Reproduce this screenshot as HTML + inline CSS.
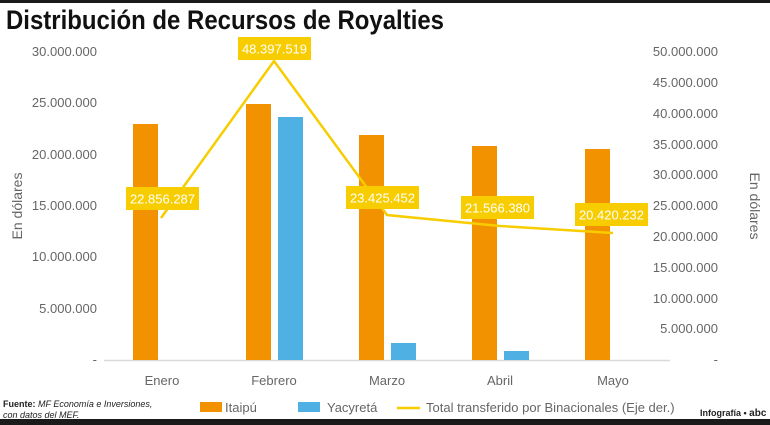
<!DOCTYPE html>
<html><head><meta charset="utf-8"><style>
body{margin:0;background:#fff;}
svg{display:block;font-family:"Liberation Sans",sans-serif;}
</style></head><body>
<svg width="770" height="425" viewBox="0 0 770 425">
<rect x="0" y="0" width="770" height="3" fill="#1a1a1a"/>
<rect x="0" y="419" width="770" height="6" fill="#1a1a1a"/>
<text x="6" y="29" font-size="27" font-weight="bold" fill="#111" textLength="438" lengthAdjust="spacingAndGlyphs">Distribución de Recursos de Royalties</text>
<g font-size="13" fill="#666" text-anchor="end">
<text x="97" y="56">30.000.000</text>
<text x="97" y="107">25.000.000</text>
<text x="97" y="159">20.000.000</text>
<text x="97" y="210">15.000.000</text>
<text x="97" y="261">10.000.000</text>
<text x="97" y="313">5.000.000</text>
<text x="97" y="364">-</text>
</g>
<g font-size="13" fill="#666" text-anchor="end">
<text x="718" y="56">50.000.000</text>
<text x="718" y="87">45.000.000</text>
<text x="718" y="118">40.000.000</text>
<text x="718" y="149">35.000.000</text>
<text x="718" y="179">30.000.000</text>
<text x="718" y="210">25.000.000</text>
<text x="718" y="241">20.000.000</text>
<text x="718" y="272">15.000.000</text>
<text x="718" y="303">10.000.000</text>
<text x="718" y="333">5.000.000</text>
<text x="718" y="364">-</text>
</g>
<text transform="translate(22,206) rotate(-90)" font-size="14" fill="#666" text-anchor="middle">En dólares</text>
<text transform="translate(750,206) rotate(90)" font-size="14" fill="#666" text-anchor="middle">En dólares</text>
<line x1="104" y1="360.5" x2="670" y2="360.5" stroke="#d9d9d9" stroke-width="1.5"/>
<g fill="#f39200">
<rect x="133" y="124" width="25" height="236"/>
<rect x="246" y="104" width="25" height="256"/>
<rect x="359" y="135" width="25" height="225"/>
<rect x="472" y="146" width="25" height="214"/>
<rect x="585" y="149" width="25" height="211"/>
</g>
<g fill="#4fb0e3">
<rect x="278" y="117" width="25" height="243"/>
<rect x="391" y="343" width="25" height="17"/>
<rect x="504" y="351" width="25" height="9"/>
</g>
<polyline points="161,218 274,61 387,215 500,226 613,233" fill="none" stroke="#f7cd00" stroke-width="2.5"/>
<g font-size="13" fill="#fff" text-anchor="middle">
<rect x="126" y="187" width="73" height="23" fill="#f7cd00"/><text x="162.5" y="203.5">22.856.287</text>
<rect x="238" y="37" width="73" height="23" fill="#f7cd00"/><text x="274.5" y="53.5">48.397.519</text>
<rect x="346" y="186" width="73" height="23" fill="#f7cd00"/><text x="382.5" y="202.5">23.425.452</text>
<rect x="461" y="196" width="73" height="23" fill="#f7cd00"/><text x="497.5" y="212.5">21.566.380</text>
<rect x="575" y="203" width="73" height="23" fill="#f7cd00"/><text x="611.5" y="219.5">20.420.232</text>
</g>
<g font-size="13" fill="#666" text-anchor="middle">
<text x="162" y="385">Enero</text>
<text x="274" y="385">Febrero</text>
<text x="387" y="385">Marzo</text>
<text x="500" y="385">Abril</text>
<text x="613" y="385">Mayo</text>
</g>
<text x="3" y="407" font-size="9" fill="#222"><tspan font-weight="bold">Fuente:</tspan> <tspan font-style="italic">MF Economía e Inversiones,</tspan></text>
<text x="3" y="418" font-size="9" fill="#222" font-style="italic">con datos del MEF.</text>
<rect x="134" y="402" width="22" height="10" fill="#f39200" transform="translate(66,0)"/>
<text x="225" y="412" font-size="13" fill="#666">Itaipú</text>
<rect x="298" y="402" width="22" height="10" fill="#4fb0e3"/>
<text x="327" y="412" font-size="13" fill="#666">Yacyretá</text>
<line x1="397" y1="408" x2="420" y2="408" stroke="#f7cd00" stroke-width="2.5"/>
<text x="426" y="412" font-size="13" fill="#666">Total transferido por Binacionales (Eje der.)</text>
<text x="700" y="416" font-size="9" font-weight="bold" fill="#222">Infografía • <tspan font-size="10">abc</tspan></text>
</svg>
</body></html>
